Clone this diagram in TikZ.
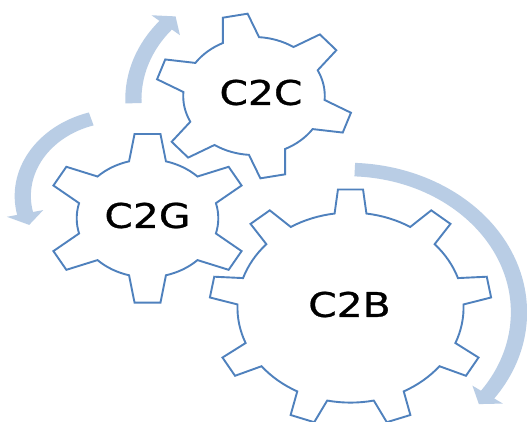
\documentclass[tikz,border=0pt]{standalone}
\usepackage{fontspec}
\newfontfamily\lblfont[FakeStretch=1.2, FakeBold=0.8]{DejaVu Sans}
\definecolor{gearblue}{RGB}{79,129,189}
\definecolor{arrowblue}{RGB}{185,205,229}
\tikzset{
  gearline/.style={draw=gearblue, line width=1.9pt, fill=white, line join=miter},
  arrowfill/.style={fill=arrowblue},
  lbl/.style={font=\lblfont\fontsize{34}{34}\selectfont, inner sep=0pt, text=black}
}
% #1 cx, #2 cy, #3 xstretch, #4 teeth, #5 Ri, #6 Ro, #7 tip half angle, #8 base half angle, #9 first tooth angle
\newcommand\drawgear[9]{%
  \begin{scope}[shift={(#1,#2)}, x=#3pt, y=1pt]
    \pgfmathsetmacro\gstep{360/#4}
    \pgfmathtruncatemacro\glast{#4-1}
    \draw[gearline] ({#9-#8}:#5)
      \foreach \k in {0,...,\glast}{
        -- ({#9+\k*\gstep-#7}:#6) -- ({#9+\k*\gstep+#7}:#6) -- ({#9+\k*\gstep+#8}:#5)
        arc[start angle={#9+\k*\gstep+#8}, end angle={#9+(\k+1)*\gstep-#8}, radius=#5]
      } -- cycle;
  \end{scope}}
% #1 cx, #2 cy, #3 r, #4 start angle, #5 head base angle, #6 tip angle
\newcommand\curvarrow[6]{%
  \begin{scope}[shift={(#1,#2)}, x=1.2pt, y=1pt]
    \fill[arrowfill] ({#4}:{#3-6.75}) arc[start angle=#4, end angle=#5, radius=#3-6.75]
      -- ({#5}:{#3-15.5}) -- ({#6}:{#3}) -- ({#5}:{#3+15.5}) -- ({#5}:{#3+6.75})
      arc[start angle=#5, end angle=#4, radius=#3+6.75] -- cycle;
  \end{scope}}
\begin{document}
\begin{tikzpicture}[x=1pt, y=-1pt]
  \useasboundingbox (0,0) rectangle (527,421);
  \clip (0,0) rectangle (527,421);
  \fill[white] (0,0) rectangle (527,421);
  % arrows
  \curvarrow{271.5}{99.2}{115.1}{182}{140}{134}
  \curvarrow{119.5}{196}{80.6}{107}{192.5}{201}
  \curvarrow{347.6}{312.3}{142.8}{87.6}{-35.2}{-40}
  % gears
  \drawgear{254}{96}{1.2}{6}{59}{82.5}{7.3}{15.1}{101}
  \drawgear{147.5}{218.3}{1.2}{6}{59}{85}{7.3}{15.1}{90}
  \drawgear{350.5}{307.6}{1.19}{9}{95}{118.6}{5.1}{8.1}{90}
  % labels
  \node[lbl] (c2c) at (261,92.5) {C2C};
  \node[lbl] (c2g) at (147.5,215.5) {C2G};
  \node[lbl] (c2b) at (349.5,304.5) {C2B};
\end{tikzpicture}
\end{document}
